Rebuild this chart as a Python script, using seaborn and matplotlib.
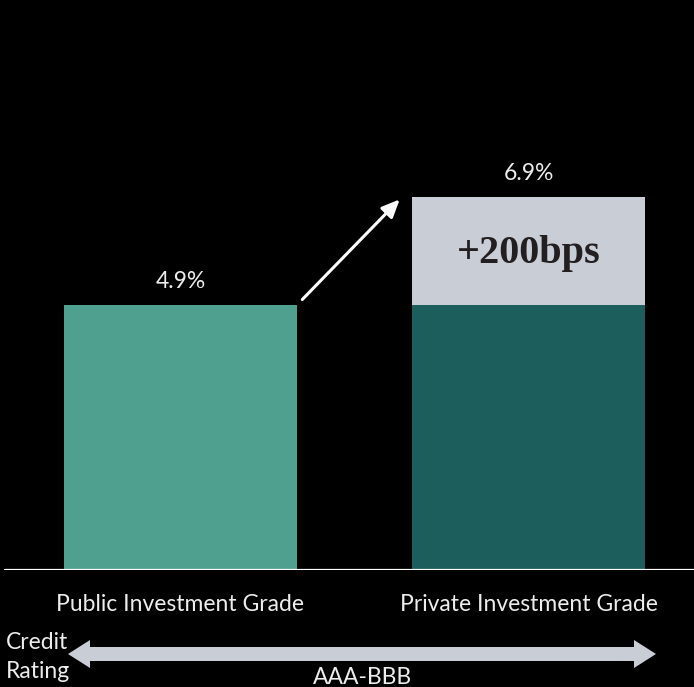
import matplotlib
matplotlib.use("Agg")
import matplotlib.pyplot as plt
from matplotlib.patches import Polygon
import seaborn as sns
import pandas as pd

# ---- data ----
categories = ["Public Investment Grade", "Private Investment Grade"]
base_yield = [4.9, 4.9]
premium = [0.0, 2.0]
premium_label = "+200bps"
rating_label = "AAA-BBB"
bar_colors = ["#4FA08E", "#1B5E5C"]
premium_color = "#C9CDD6"

totals = [b + p for b, p in zip(base_yield, premium)]
df = pd.DataFrame({"category": categories, "base": base_yield})

sns.set_theme(style="white")
plt.rcParams["font.family"] = ["Lato", "DejaVu Sans"]

W, H = 694, 687
TXT = "#EDEDED"
FS = 16.5
fig = plt.figure(figsize=(W / 100, H / 100), dpi=100, facecolor="black")
ax = fig.add_axes([0, 117 / H, 1, 570 / H])
ax.set_facecolor("black")

bw = 0.67
sns.barplot(data=df, x="category", y="base", hue="category", palette=bar_colors,
            saturation=1, width=bw, legend=False, ax=ax, linewidth=0)
ax.bar([1], [premium[1]], bottom=[base_yield[1]], width=bw, color=premium_color,
       linewidth=0)

ax.set_xlim(-180.5 / 348, 1 + (694 - 528.5) / 348)
ax.set_ylim(0, 570 / 54.1)
for s in ax.spines.values():
    s.set_visible(False)
ax.set_yticks([])
ax.set_ylabel("")
ax.set_xlabel("")
ax.tick_params(axis="x", length=0, pad=17.5, colors=TXT, labelsize=FS)
ax.axhline(0, xmin=5 / 694, xmax=1, color="white", lw=1.6, zorder=5)

# value labels
for i, v in enumerate(totals):
    ax.annotate(f"{v:.1f}%", (i, v), xytext=(0, 17), textcoords="offset points",
                ha="center", va="center", color=TXT, fontsize=FS)

# premium label
ax.text(1, base_yield[1] + premium[1] / 2 - 0.05, premium_label, ha="center",
        va="center", color="#231F20", fontsize=29, fontweight="bold",
        family=["Liberation Serif", "DejaVu Serif"])

# arrow from public bar to private bar top
ax.annotate("", xy=(1 - bw / 2 - 0.035, totals[1] - 0.05),
            xytext=(bw / 2 + 0.015, totals[0] + 0.1),
            arrowprops=dict(arrowstyle="-|>,head_length=0.9,head_width=0.4",
                            color="white", lw=2.2, shrinkA=0, shrinkB=0))

# bottom rating double arrow (figure pixel coords)
def fx(px):
    return px / W

def fy(py):
    return 1 - py / H

xl, xr, yc = 68, 656, 654
hl, sh, hh = 22, 7, 14
pts = [(xl, yc), (xl + hl, yc - hh), (xl + hl, yc - sh), (xr - hl, yc - sh),
       (xr - hl, yc - hh), (xr, yc), (xr - hl, yc + hh), (xr - hl, yc + sh),
       (xl + hl, yc + sh), (xl + hl, yc + hh)]
fig.patches.append(Polygon([(fx(a), fy(b)) for a, b in pts], closed=True,
                           transform=fig.transFigure, facecolor=premium_color,
                           edgecolor="none"))

fig.text(fx(6), fy(657), "Credit\nRating", ha="left", va="center", color=TXT,
         fontsize=FS, linespacing=1.45)
fig.text(fx(362), fy(677), rating_label, ha="center", va="center", color=TXT,
         fontsize=FS)

fig.savefig("out.png", dpi=100, facecolor="black")
